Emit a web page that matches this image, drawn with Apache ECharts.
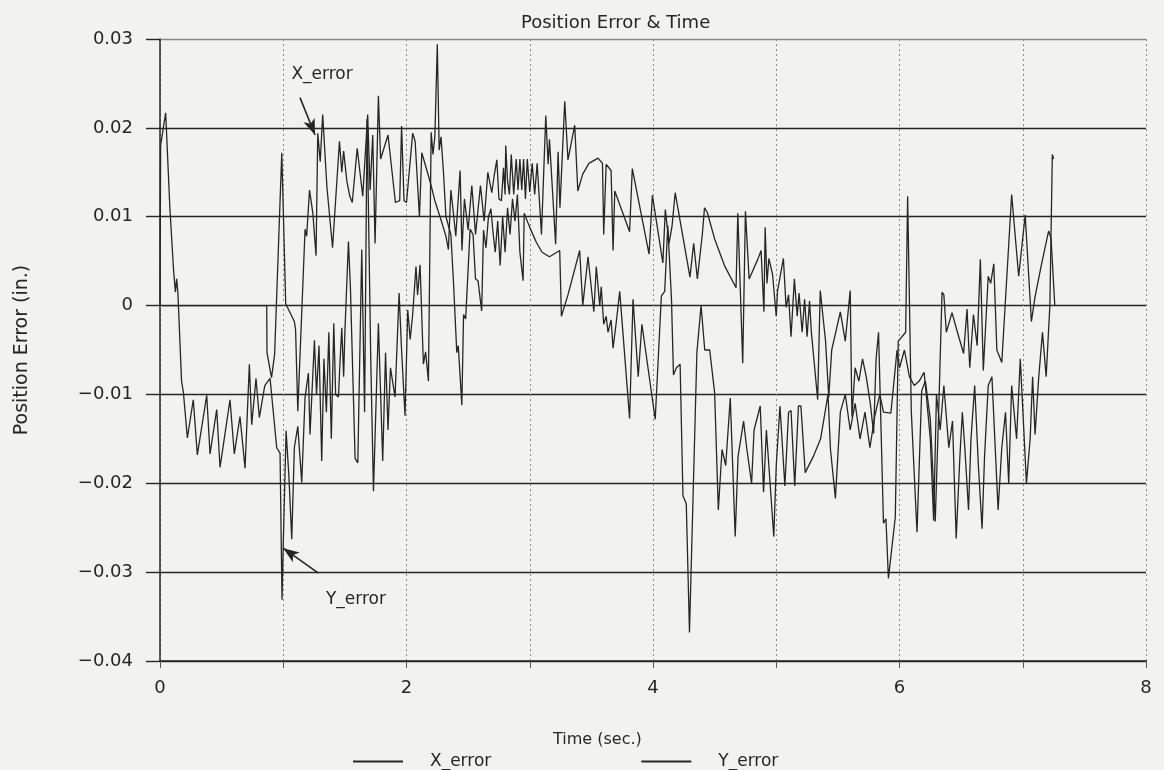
<!DOCTYPE html>
<html><head><meta charset="utf-8">
<script src="https://cdn.jsdelivr.net/npm/echarts@6/dist/echarts.min.js"></script>
<style>html,body{margin:0;padding:0;background:#f2f2f0;}#c{width:1164px;height:770px;}</style>
</head><body><div id="c"></div>
<script>
// Time (sec.) , Position error (in.)
const xError = [
[0.02,0],[0.866,0],[0.868,-0.0053],[0.905,-0.0081],[0.93,-0.0055],[0.988,0.0172],[1.02,0.0002],[1.09,-0.0018],[1.10,-0.0027],[1.118,-0.0119],
[1.177,0.0086],[1.19,0.0078],[1.213,0.0130],[1.24,0.0104],[1.266,0.0056],[1.28,0.0194],[1.30,0.0162],[1.32,0.0215],[1.354,0.0134],[1.40,0.0065],
[1.456,0.0185],[1.475,0.0150],[1.49,0.0174],[1.516,0.0140],[1.54,0.0123],[1.56,0.0116],[1.60,0.0177],[1.645,0.0123],[1.685,0.0215],[1.705,0.0130],
[1.726,0.0192],[1.745,0.0070],[1.772,0.0236],[1.79,0.0165],[1.85,0.0192],[1.91,0.0116],[1.945,0.0118],[1.96,0.0202],[1.98,0.0118],[2.00,0.0116],
[2.05,0.0194],[2.07,0.0185],[2.105,0.0100],[2.124,0.0172],[2.14,0.0170],[2.17,0.0150],[2.20,0.0135],[2.23,0.0118],[2.26,0.0105],[2.29,0.0092],
[2.32,0.0078],[2.34,0.0063],[2.36,0.0130],[2.38,0.0105],[2.40,0.0078],[2.435,0.0152],[2.45,0.0062],[2.47,0.0120],[2.50,0.0085],[2.53,0.0135],
[2.56,0.0080],[2.60,0.0135],[2.63,0.0095],[2.66,0.0150],[2.692,0.0127],[2.71,0.0145],[2.733,0.0164],[2.75,0.0120],[2.77,0.0118],[2.787,0.0155],
[2.80,0.0125],[2.805,0.0180],[2.82,0.0140],[2.835,0.0125],[2.85,0.0170],[2.87,0.0125],[2.89,0.0165],[2.905,0.0130],[2.92,0.0165],[2.935,0.0130],
[2.95,0.0165],[2.965,0.0120],[2.98,0.0165],[3.00,0.0128],[3.02,0.0160],[3.04,0.0125],[3.06,0.0160],[3.095,0.0080],[3.13,0.0214],[3.149,0.0159],
[3.16,0.0187],[3.21,0.0069],[3.23,0.0173],[3.245,0.0110],[3.284,0.0230],[3.31,0.0164],[3.365,0.0203],[3.39,0.0129],[3.43,0.0148],[3.48,0.0160],
[3.554,0.0166],[3.59,0.0160],[3.60,0.0080],[3.62,0.0159],[3.66,0.0152],[3.676,0.0062],[3.69,0.0129],[3.81,0.0083],[3.832,0.0154],[3.968,0.0058],
[3.995,0.0124],[4.08,0.0048],[4.10,0.0108],[4.13,0.0070],[4.155,0.0090],[4.18,0.0127],[4.30,0.0032],[4.33,0.0070],[4.36,0.0030],[4.40,0.0080],
[4.418,0.0110],[4.44,0.0105],[4.50,0.0075],[4.58,0.0045],[4.674,0.0020],[4.688,0.0104],[4.728,-0.0065],[4.75,0.0106],[4.78,0.0030],[4.85,0.0052],
[4.877,0.0062],[4.90,-0.0007],[4.91,0.0088],[4.925,0.0025],[4.94,0.0053],[4.97,0.0035],[5.00,-0.0012],[5.01,0.0016],[5.058,0.0053],[5.08,-0.0002],
[5.10,0.0012],[5.12,-0.0035],[5.147,0.0030],[5.17,-0.0012],[5.185,0.0014],[5.21,-0.0030],[5.23,0.0007],[5.25,-0.0035],[5.27,0.0005],[5.285,-0.0030],
[5.336,-0.0106],[5.357,0.0017],[5.40,-0.0040],[5.426,-0.0103],[5.45,-0.0050],[5.52,-0.0007],[5.56,-0.0040],[5.60,0.0017],[5.614,-0.0125],[5.64,-0.0070],
[5.67,-0.0085],[5.70,-0.0060],[5.73,-0.0080],[5.763,-0.0110],[5.79,-0.0144],[5.81,-0.0060],[5.83,-0.0030],[5.87,-0.0245],[5.89,-0.0240],[5.91,-0.0307],
[5.966,-0.0238],[5.99,-0.0040],[6.05,-0.0030],[6.066,0.0123],[6.096,-0.0120],[6.142,-0.0255],[6.18,-0.0096],[6.21,-0.0085],[6.25,-0.0128],[6.29,-0.0243],
[6.32,-0.0110],[6.345,0.0015],[6.36,0.0012],[6.38,-0.0030],[6.426,-0.0008],[6.47,-0.0030],[6.52,-0.0054],[6.548,-0.0004],[6.57,-0.0070],[6.60,-0.0010],
[6.63,-0.0045],[6.656,0.0052],[6.68,-0.0073],[6.72,0.0033],[6.74,0.0025],[6.765,0.0047],[6.79,-0.0050],[6.83,-0.0064],[6.91,0.0125],[6.967,0.0033],
[7.02,0.0102],[7.07,-0.0018],[7.10,0.0010],[7.15,0.0045],[7.21,0.0084],[7.23,0.0075],[7.26,0.0000]
];
const yError = [
[0,0],[0.005,0.0180],[0.046,0.0217],[0.08,0.0110],[0.11,0.0040],[0.125,0.0015],[0.135,0.0030],[0.145,0.0015],[0.175,-0.0085],[0.19,-0.0098],
[0.222,-0.0149],[0.27,-0.0106],[0.303,-0.0168],[0.379,-0.0101],[0.406,-0.0167],[0.46,-0.0117],[0.487,-0.0182],[0.568,-0.0106],[0.603,-0.0167],[0.649,-0.0125],
[0.69,-0.0183],[0.725,-0.0066],[0.744,-0.0134],[0.779,-0.0082],[0.806,-0.0126],[0.85,-0.0090],[0.893,-0.0082],[0.947,-0.0160],[0.974,-0.0166],[0.99,-0.0331],
[1.00,-0.0270],[1.023,-0.0141],[1.045,-0.0190],[1.069,-0.0263],[1.09,-0.0160],[1.118,-0.0136],[1.15,-0.0199],[1.177,-0.0103],[1.204,-0.0076],[1.217,-0.0145],
[1.253,-0.0039],[1.27,-0.0100],[1.29,-0.0045],[1.312,-0.0175],[1.33,-0.0060],[1.35,-0.0120],[1.37,-0.0030],[1.39,-0.0150],[1.41,-0.0020],[1.425,-0.0100],
[1.448,-0.0103],[1.46,-0.0065],[1.475,-0.0025],[1.49,-0.0080],[1.50,-0.0030],[1.529,0.0072],[1.545,0.0020],[1.583,-0.0172],[1.605,-0.0177],[1.637,0.0063],
[1.66,-0.0120],[1.68,0.0210],[1.71,-0.0060],[1.732,-0.0209],[1.772,-0.0020],[1.807,-0.0175],[1.83,-0.0053],[1.85,-0.0140],[1.87,-0.0070],[1.907,-0.0103],
[1.94,0.0014],[1.96,-0.0050],[1.988,-0.0124],[2.01,-0.0005],[2.03,-0.0038],[2.05,-0.0010],[2.077,0.0044],[2.09,0.0012],[2.11,0.0046],[2.137,-0.0066],
[2.155,-0.0052],[2.178,-0.0085],[2.20,0.0195],[2.215,0.0170],[2.23,0.0190],[2.25,0.0294],[2.265,0.0175],[2.28,0.0190],[2.30,0.0150],[2.32,0.0100],
[2.36,0.0080],[2.38,0.0030],[2.408,-0.0053],[2.42,-0.0045],[2.449,-0.0112],[2.463,-0.0010],[2.48,-0.0015],[2.516,0.0086],[2.54,0.0080],[2.56,0.0030],
[2.58,0.0028],[2.61,-0.0006],[2.625,0.0085],[2.645,0.0065],[2.665,0.0100],[2.685,0.0109],[2.70,0.0085],[2.72,0.0060],[2.74,0.0095],[2.76,0.0045],
[2.78,0.0100],[2.80,0.0060],[2.82,0.0110],[2.84,0.0080],[2.86,0.0120],[2.88,0.0095],[2.90,0.0125],[2.92,0.0060],[2.946,0.0028],[2.955,0.0104],
[3.00,0.0088],[3.054,0.0071],[3.10,0.0060],[3.16,0.0055],[3.243,0.0062],[3.257,-0.0012],[3.31,0.0012],[3.405,0.0062],[3.43,0.0000],[3.473,0.0055],
[3.52,-0.0007],[3.54,0.0044],[3.568,0.0000],[3.58,0.0021],[3.60,-0.0021],[3.62,-0.0012],[3.635,-0.0030],[3.66,-0.0016],[3.676,-0.0048],[3.70,-0.0021],
[3.73,0.0016],[3.81,-0.0127],[3.838,0.0007],[3.88,-0.0080],[3.91,-0.0021],[4.018,-0.0128],[4.068,0.0011],[4.095,0.0016],[4.12,0.0090],[4.15,0.0007],
[4.166,-0.0078],[4.19,-0.0070],[4.22,-0.0066],[4.243,-0.0214],[4.27,-0.0223],[4.296,-0.0368],[4.356,-0.0053],[4.39,0.0000],[4.42,-0.0050],[4.46,-0.0050],
[4.50,-0.0098],[4.53,-0.0230],[4.56,-0.0162],[4.59,-0.0180],[4.627,-0.0104],[4.667,-0.0260],[4.69,-0.0170],[4.735,-0.0130],[4.76,-0.0160],[4.80,-0.0200],
[4.82,-0.0140],[4.87,-0.0113],[4.897,-0.0210],[4.92,-0.0140],[4.98,-0.0260],[5.00,-0.0180],[5.03,-0.0113],[5.07,-0.0203],[5.10,-0.0120],[5.12,-0.0118],
[5.15,-0.0203],[5.18,-0.0113],[5.20,-0.0113],[5.235,-0.0188],[5.30,-0.0170],[5.36,-0.0150],[5.42,-0.0100],[5.44,-0.0162],[5.48,-0.0217],[5.52,-0.0120],
[5.56,-0.0100],[5.60,-0.0140],[5.64,-0.0110],[5.68,-0.0150],[5.72,-0.0120],[5.76,-0.0160],[5.80,-0.0124],[5.84,-0.0100],[5.87,-0.0120],[5.93,-0.0121],
[5.98,-0.0050],[6.00,-0.0070],[6.04,-0.0050],[6.08,-0.0080],[6.12,-0.0090],[6.16,-0.0085],[6.20,-0.0075],[6.25,-0.0150],[6.277,-0.0242],[6.30,-0.0100],
[6.33,-0.0140],[6.36,-0.0090],[6.40,-0.0160],[6.43,-0.0130],[6.46,-0.0262],[6.49,-0.0170],[6.51,-0.0120],[6.53,-0.0160],[6.56,-0.0230],[6.58,-0.0150],
[6.61,-0.0090],[6.64,-0.0180],[6.67,-0.0251],[6.69,-0.0170],[6.72,-0.0090],[6.75,-0.0080],[6.80,-0.0230],[6.83,-0.0160],[6.86,-0.0120],[6.886,-0.0200],
[6.91,-0.0090],[6.95,-0.0150],[6.98,-0.0060],[7.03,-0.0200],[7.06,-0.0150],[7.08,-0.0080],[7.10,-0.0145],[7.13,-0.0080],[7.16,-0.0030],[7.19,-0.0080],
[7.22,0.0000],[7.24,0.0170],[7.25,0.0165]
];
// annotation arrows (data coordinates): [from, to]
const xArrow = [[1.136,0.0234],[1.258,0.0192]];
const yArrow = [[1.285,-0.0301],[1.0,-0.0273]];
const xLabelAt = [1.315,0.0260];
const yLabelAt = [1.59,-0.0331];

const FONT = 'DejaVu Sans';
const INK = '#262626';
const chart = echarts.init(document.getElementById('c'), null, {renderer:'canvas'});
chart.setOption({
  animation:false,
  backgroundColor:'#f2f2f0',
  title:[
    {text:'Position Error & Time', left:516, top:9, textStyle:{fontFamily:FONT,fontSize:18,fontWeight:'normal',color:INK}},
    {text:'Time (sec.)', left:548, top:727, textStyle:{fontFamily:FONT,fontSize:16,fontWeight:'normal',color:INK}}
  ],
  legend:{
    data:['X_error','Y_error'], left:348, top:748, icon:'rect', itemWidth:50, itemHeight:2, itemGap:150,
    textStyle:{fontFamily:FONT,fontSize:17,color:INK,padding:[0,0,0,22]}
  },
  grid:{left:160,right:18,top:39,bottom:109},
  xAxis:{
    type:'value', min:0, max:8, interval:1,
    axisLine:{onZero:false,lineStyle:{color:INK,width:1.5}},
    axisTick:{show:true,length:7,lineStyle:{color:'#555',width:1}},
    axisLabel:{margin:18,fontFamily:FONT,fontSize:18,color:INK,formatter:v=>(v%2===0?String(v):'')},
    splitLine:{show:true,lineStyle:{color:'#8a8a8a',width:1,type:[2,3]}}
  },
  yAxis:{
    type:'value', min:-0.04, max:0.03, interval:0.01,
    name:'Position Error (in.)', nameLocation:'middle', nameGap:128,
    nameTextStyle:{fontFamily:FONT,fontSize:19,color:INK},
    axisLine:{onZero:false,lineStyle:{color:INK,width:1.5}},
    axisTick:{show:true,length:14,lineStyle:{color:INK,width:1.4}},
    axisLabel:{margin:27,fontFamily:FONT,fontSize:18,color:INK,
      formatter:v=>{const r=Math.round(v*100)/100; return r===0?'0':(r<0?'\u2212':'')+Math.abs(r).toFixed(2);}},
    splitLine:{show:true,lineStyle:{color:[INK,INK,INK,INK,INK,INK,INK,'#8a8a8a'],width:1.4}}
  },
  series:[
    {name:'X_error', type:'line', data:xError, symbol:'none', lineStyle:{color:INK,width:1.3}, itemStyle:{color:INK},
     markLine:{silent:true, symbol:['none','arrow'], symbolSize:[9,16], label:{show:false},
       lineStyle:{color:INK,width:1.6,type:'solid'}, data:[[{coord:xArrow[0]},{coord:xArrow[1]}]]},
     markPoint:{silent:true, symbol:'rect', symbolSize:1, itemStyle:{color:'rgba(0,0,0,0)'},
       label:{show:true,position:'inside',formatter:'X_error',fontFamily:FONT,fontSize:17,color:INK},
       data:[{coord:xLabelAt}]}
    },
    {name:'Y_error', type:'line', data:yError, symbol:'none', lineStyle:{color:INK,width:1.3}, itemStyle:{color:INK},
     markLine:{silent:true, symbol:['none','arrow'], symbolSize:[9,16], label:{show:false},
       lineStyle:{color:INK,width:1.6,type:'solid'}, data:[[{coord:yArrow[0]},{coord:yArrow[1]}]]},
     markPoint:{silent:true, symbol:'rect', symbolSize:1, itemStyle:{color:'rgba(0,0,0,0)'},
       label:{show:true,position:'inside',formatter:'Y_error',fontFamily:FONT,fontSize:17,color:INK},
       data:[{coord:yLabelAt}]}
    }
  ]
});
</script></body></html>
